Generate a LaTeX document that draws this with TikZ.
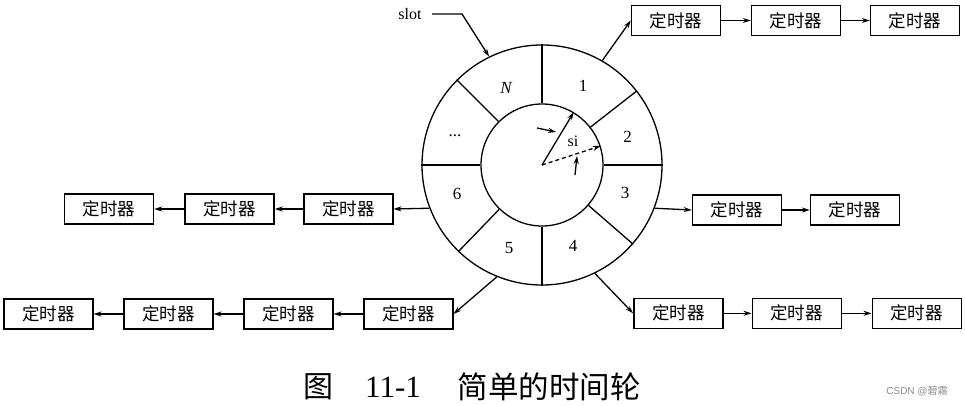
\documentclass[tikz,border=0pt]{standalone}
\usepackage{fontspec}
\setmainfont{Liberation Serif}
\newfontfamily\cjk{Noto Sans CJK SC}
\newfontfamily\wmfont{Liberation Sans}
\usetikzlibrary{arrows.meta}
\begin{document}
\begin{tikzpicture}[x=1pt,y=-1pt,
  ln/.style={line width=1.3pt},
  arr/.style={line width=1.3pt,-{Stealth[length=8pt,width=5pt]}},
  timer/.style={draw,line width=1.4pt,minimum width=89pt,minimum height=30pt,inner sep=0pt,font=\cjk\fontsize{17.5}{17.5}\selectfont},
  num/.style={font=\fontsize{17}{17}\selectfont},
  ring/.style={circle,draw,line width=1.3pt,inner sep=0pt}]
\useasboundingbox (0,0) rectangle (965,406);
\fill[white] (0,0) rectangle (965,406);
% wheel
\node[ring,minimum size=240pt] (outer) at (542,165) {};
\node[ring,minimum size=122pt] (inner) at (542,165) {};
\foreach \a in {90,38,0,-41,-90,226,180,135}
  \draw[ln] (inner.\a) -- (outer.\a);
% slot labels
\node[num,font=\itshape\fontsize{17}{17}\selectfont] (sN) at (506,88) {N};
\node[num] (s1) at (583,86) {1};
\node[num] (s2) at (627.5,137) {2};
\node[num] (s3) at (625,193) {3};
\node[num] (s4) at (573,246) {4};
\node[num] (s5) at (509,248) {5};
\node[num] (s6) at (457,194) {6};
\node[num] (sd) at (455,136) {...};
% hands
\coordinate (ctr) at (542,165);
\draw[arr] (ctr) -- (inner.59);
\draw[arr,dashed,dash pattern=on 4pt off 3pt] (ctr) -- (inner.18);
\node[num,font=\fontsize{16}{16}\selectfont] (si) at (573,141) {si};
\coordinate (m1a) at (537,128); \coordinate (m1b) at (556,132);
\draw[arr] (m1a) -- (m1b);
\coordinate (m2a) at (575,175); \coordinate (m2b) at (577,156);
\draw[arr] (m2a) -- (m2b);
% slot pointer
\node[font=\fontsize{16}{16}\selectfont] (slot) at (410,14) {slot};
\coordinate (bend) at (462,14);
\draw[arr,shorten <=7pt] (slot.east) -- (bend) -- (outer.116);
% top-right chain
\node[timer] (T1) at (676,20.5) {定时器};
\node[timer] (T2) at (796,20.5) {定时器};
\node[timer] (T3) at (915,20.5) {定时器};
\draw[arr] (outer.60.5) -- (T1.west);
\draw[arr] (T1) -- (T2);
\draw[arr] (T2) -- (T3);
% right chain
\node[timer] (R1) at (737,210) {定时器};
\node[timer] (R2) at (855,210) {定时器};
\draw[arr] (outer.-21.5) -- (R1.west);
\draw[arr] (R1) -- (R2);
% left chain
\node[timer] (L1) at (348.3,209) {定时器};
\node[timer] (L2) at (229.5,209) {定时器};
\node[timer] (L3) at (109,209) {定时器};
\draw[arr] (outer.201.5) -- (L1.east);
\draw[arr] (L1) -- (L2);
\draw[arr] (L2) -- (L3);
% bottom-left chain
\node[timer] (B1) at (408.3,314) {定时器};
\node[timer] (B2) at (288.3,314) {定时器};
\node[timer] (B3) at (168.3,314) {定时器};
\node[timer] (B4) at (48.3,314) {定时器};
\draw[arr] (outer.-112) -- (B1.east);
\draw[arr] (B1) -- (B2);
\draw[arr] (B2) -- (B3);
\draw[arr] (B3) -- (B4);
% bottom-right chain
\node[timer] (C1) at (678.3,313.3) {定时器};
\node[timer] (C2) at (796.7,313.3) {定时器};
\node[timer] (C3) at (916.7,313.3) {定时器};
\draw[arr] (outer.-64.5) -- (C1.west);
\draw[arr] (C1) -- (C2);
\draw[arr] (C2) -- (C3);
% caption
\node[font=\cjk\fontsize{30}{30}\selectfont] (capA) at (318,387) {图};
\node[font=\fontsize{31}{31}\selectfont] (capB) at (393,387) {11-1};
\node[font=\cjk\fontsize{30.5}{30.5}\selectfont] (capC) at (549,387) {简单的时间轮};
% watermark
\node[font=\cjk\fontsize{10}{10}\selectfont,text=black!45] (wm) at (917,391) {{\wmfont CSDN @}碧霜};
\end{tikzpicture}
\end{document}
